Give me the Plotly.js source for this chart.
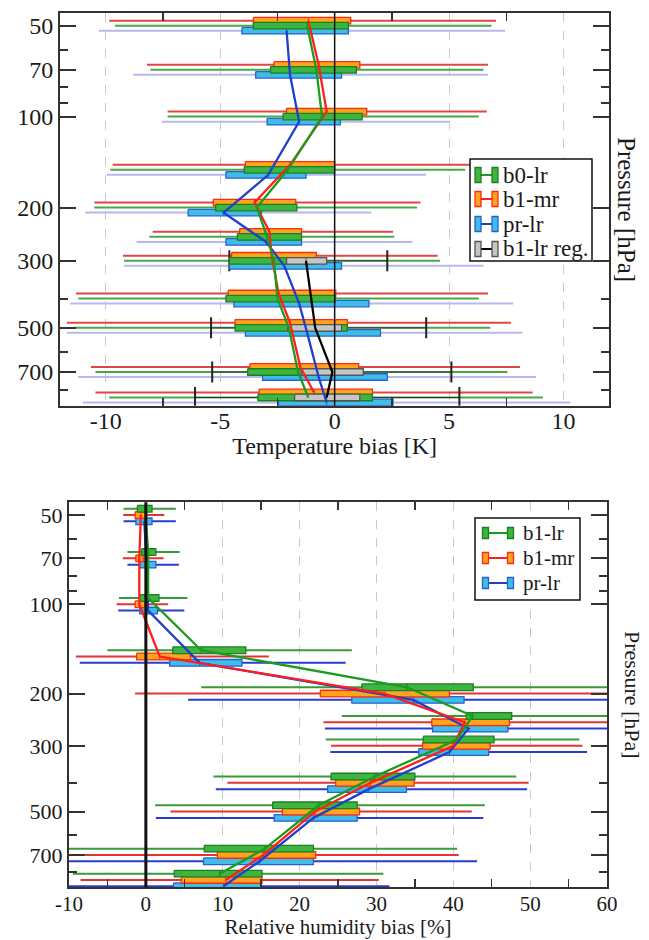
<!DOCTYPE html>
<html>
<head>
<meta charset="utf-8">
<script src="https://cdn.plot.ly/plotly-3.0.1.min.js"></script>
<style>html,body{margin:0;padding:0;background:#fff;}#chart{width:649px;height:940px;}</style>
</head>
<body>
<div id="chart"></div>
<script>
// ---------------- DATA ----------------
const LEVELS = [50, 70, 100, 150, 200, 250, 300, 400, 500, 700, 850];
const P_TICKS = [50, 70, 100, 200, 300, 500, 700];
const P_MINOR = [60, 80, 90, 400, 600, 800];
const T_TICKS = [-10, -5, 0, 5, 10];
const T_MINOR = [-7.5, -2.5, 2.5, 7.5];
const RH_TICKS = [-10, 0, 10, 20, 30, 40, 50, 60];
const RH_MINOR = [-5, 5, 15, 25, 35, 45, 55];

// Temperature bias [K]
const T_B0LR_MIN = [-9.6, -8.05, -7.3, -9.8, -10.5, -8.1, -9.2, -11.2, -11.4, -10.45, -9.85];
const T_B0LR_Q1  = [-3.55, -2.8, -2.25, -3.95, -5.2, -4.25, -4.6, -4.75, -4.35, -3.8, -3.35];
const T_B0LR_MED = [-1.2, -0.8, -0.55, -2.05, -3.4, -2.95, -2.65, -2.5, -2.0, -1.6, -1.15];
const T_B0LR_Q3  = [0.6, 0.95, 1.2, 0.0, -1.65, -1.45, -0.9, 0.03, 0.55, 0.9, 1.65];
const T_B0LR_MAX = [6.85, 6.5, 6.3, 5.7, 3.6, 2.6, 4.6, 6.3, 6.8, 7.55, 9.1];

const T_B1MR_MIN = [-9.85, -8.2, -7.3, -9.7, -10.5, -7.95, -9.25, -11.3, -11.7, -10.65, -10.45];
const T_B1MR_Q1  = [-3.55, -2.65, -2.1, -3.9, -5.3, -4.15, -4.5, -4.65, -4.35, -3.7, -3.3];
const T_B1MR_MED = [-1.15, -0.7, -0.35, -1.95, -3.5, -2.85, -2.75, -2.45, -1.95, -1.5, -0.9];
const T_B1MR_Q3  = [0.7, 1.1, 1.4, 0.0, -1.7, -1.45, -0.8, 0.05, 0.55, 1.05, 1.65];
const T_B1MR_MAX = [7.05, 6.7, 6.65, 5.95, 3.75, 2.55, 4.5, 6.7, 7.7, 8.1, 8.65];

const T_PRLR_MIN = [-10.3, -8.8, -7.55, -9.95, -10.9, -8.65, -9.2, -11.55, -11.7, -11.2, -11.0];
const T_PRLR_Q1  = [-4.05, -3.45, -2.95, -4.75, -6.4, -4.75, -4.6, -4.4, -3.9, -3.15, -2.45];
const T_PRLR_MED = [-2.1, -1.95, -1.55, -2.9, -4.85, -3.0, -2.2, -1.55, -1.2, -0.7, -0.35];
const T_PRLR_Q3  = [0.6, 0.3, 0.25, -1.25, -3.2, -1.45, 0.3, 1.5, 2.0, 2.3, 2.55];
const T_PRLR_MAX = [7.45, 6.7, 5.0, 4.0, 1.6, 3.4, 6.5, 7.8, 8.2, 8.8, 10.3];

const T_REG_LEVELS = [300, 500, 700, 850];
const T_REG_MIN = [-4.6, -5.4, -5.35, -6.1];
const T_REG_Q1  = [-2.1, -2.05, -1.45, -1.75];
const T_REG_MED = [-1.25, -0.85, -0.1, -0.35];
const T_REG_Q3  = [-0.35, 0.3, 1.25, 1.1];
const T_REG_MAX = [2.3, 4.0, 5.1, 5.45];

// Relative humidity bias [%]
const RH_B1LR_MIN = [-2.9, -2.4, -3.5, -5.0, 7.2, 25.5, 23.4, 8.8, 1.2, -12, -9.5];
const RH_B1LR_Q1  = [-1.1, -0.55, -0.8, 3.5, 28.1, 41.7, 36.1, 24.1, 16.5, 7.6, 3.7];
const RH_B1LR_MED = [-0.1, 0.3, 0.3, 7.2, 34.0, 42.5, 40.5, 29.8, 22.5, 15.5, 9.6];
const RH_B1LR_Q3  = [0.8, 1.3, 1.7, 13.0, 42.6, 47.6, 45.3, 35.0, 27.5, 21.8, 15.1];
const RH_B1LR_MAX = [3.9, 4.4, 5.4, 26.8, 63, 63, 56.4, 48.2, 44.1, 40.5, 30.9];

const RH_B1MR_MIN = [-2.95, -3.0, -3.8, -9.1, -1.4, 23.1, 24.1, 10.6, 3.2, -7.9, -8.5];
const RH_B1MR_Q1  = [-1.4, -1.3, -1.4, -1.2, 22.7, 37.2, 36.0, 24.7, 17.75, 9.3, 4.6];
const RH_B1MR_MED = [-0.65, -0.85, -0.85, 1.8, 31.0, 41.5, 40.0, 29.2, 22.0, 15.3, 10.4];
const RH_B1MR_Q3  = [0.1, -0.35, -0.1, 5.8, 39.5, 47.3, 44.8, 34.9, 27.8, 22.1, 15.1];
const RH_B1MR_MAX = [2.4, 2.3, 2.9, 16.0, 63, 63, 56.8, 49.8, 42.4, 40.7, 30.3];

const RH_PRLR_MIN = [-2.9, -2.4, -3.6, -8.6, 5.5, 23.3, 24.0, 9.1, 1.3, -12, -12];
const RH_PRLR_Q1  = [-1.3, -0.8, -0.8, 3.1, 26.8, 37.3, 35.5, 23.65, 16.7, 7.5, 3.6];
const RH_PRLR_MED = [-0.2, 0.1, 0.3, 7.0, 34.8, 42.0, 39.5, 29.0, 21.8, 14.8, 10.1];
const RH_PRLR_Q3  = [0.8, 1.3, 1.5, 12.5, 41.4, 47.1, 44.6, 33.9, 27.5, 21.8, 15.0];
const RH_PRLR_MAX = [3.9, 4.3, 5.0, 26.0, 63, 63, 57.4, 49.6, 43.9, 43.1, 31.7];

const TOP_NAMES = ['b0-lr', 'b1-mr', 'pr-lr', 'b1-lr reg.'];
const BOT_NAMES = ['b1-lr', 'b1-mr', 'pr-lr'];

// ---------------- STYLE ----------------
const FONT = '"Liberation Serif", "Times New Roman", serif';
const TXT = '#1a1a1a';
const GREEN = {fill: '#3db540', border: '#1e7e22', line: '#1c9c1c', wTop: '#48a848', wBot: '#3a9a3a'};
const RED   = {fill: '#ffa41c', border: '#ff2a12', line: '#ff1e1e', wTop: '#e04646', wBot: '#e83232'};
const BLUE  = {fill: '#3fbde6', border: '#2a60d0', line: '#2040cc', wTop: '#b6b9ee', wBot: '#2a3cd0'};
const GRAY  = {fill: '#c6c6c6', border: '#555555', line: '#000000', wTop: '#333333', wBot: '#333333'};

const TOP_STEP = 0.0166, TOP_HALF = 0.0108;   // vertical offset between series / box half height (decades)
const BOT_STEP = 0.0212, BOT_HALF = 0.0112;

function shiftP(p, k, step) { return p * Math.pow(10, k * step); }

const topSeries = [
  {lv: LEVELS, k: 1,  c: BLUE,  min: T_PRLR_MIN, q1: T_PRLR_Q1, med: T_PRLR_MED, q3: T_PRLR_Q3, max: T_PRLR_MAX},
  {lv: LEVELS, k: -1, c: RED,   min: T_B1MR_MIN, q1: T_B1MR_Q1, med: T_B1MR_MED, q3: T_B1MR_Q3, max: T_B1MR_MAX},
  {lv: LEVELS, k: 0,  c: GREEN, min: T_B0LR_MIN, q1: T_B0LR_Q1, med: T_B0LR_MED, q3: T_B0LR_Q3, max: T_B0LR_MAX},
  {lv: T_REG_LEVELS, k: 0, c: GRAY, min: T_REG_MIN, q1: T_REG_Q1, med: T_REG_MED, q3: T_REG_Q3, max: T_REG_MAX, caps: true}
];
const botSeries = [
  {lv: LEVELS, k: 1,  c: BLUE,  min: RH_PRLR_MIN, q1: RH_PRLR_Q1, med: RH_PRLR_MED, q3: RH_PRLR_Q3, max: RH_PRLR_MAX},
  {lv: LEVELS, k: 0,  c: RED,   min: RH_B1MR_MIN, q1: RH_B1MR_Q1, med: RH_B1MR_MED, q3: RH_B1MR_Q3, max: RH_B1MR_MAX},
  {lv: LEVELS, k: -1, c: GREEN, min: RH_B1LR_MIN, q1: RH_B1LR_Q1, med: RH_B1LR_MED, q3: RH_B1LR_Q3, max: RH_B1LR_MAX}
];

const traces = [];
function addPanel(series, xa, ya, step, half, wKey) {
  // whiskers
  series.forEach(s => {
    const x = [], y = [];
    s.lv.forEach((p, i) => { const pp = shiftP(p, s.k, step); x.push(s.min[i], s.max[i], null); y.push(pp, pp, null); });
    traces.push({type: 'scatter', mode: 'lines', x, y, xaxis: xa, yaxis: ya, showlegend: false, hoverinfo: 'skip',
      line: {color: s.c[wKey], width: s.caps ? 1 : 2}});
    if (s.caps) {
      const cx = [], cy = [];
      s.lv.forEach((p, i) => { const pp = shiftP(p, s.k, step); cx.push(s.min[i], s.max[i]); cy.push(pp, pp); });
      traces.push({type: 'scatter', mode: 'markers', x: cx, y: cy, xaxis: xa, yaxis: ya, showlegend: false, hoverinfo: 'skip',
        marker: {symbol: 'line-ns-open', size: 15, color: '#222', line: {color: '#222', width: 2}}});
    }
  });
  // boxes with median dividers
  series.forEach(s => {
    const x = [], y = [], mx = [], my = [];
    s.lv.forEach((p, i) => {
      const pp = shiftP(p, s.k, step);
      const lo = pp * Math.pow(10, -half), hi = pp * Math.pow(10, half);
      x.push(s.q1[i], s.q3[i], s.q3[i], s.q1[i], s.q1[i], null);
      y.push(lo, lo, hi, hi, lo, null);
      mx.push(s.med[i], s.med[i], null); my.push(lo, hi, null);
    });
    traces.push({type: 'scatter', mode: 'lines', x, y, xaxis: xa, yaxis: ya, fill: 'toself', fillcolor: s.c.fill,
      line: {color: s.c.border, width: 1.3}, showlegend: false, hoverinfo: 'skip'});
    traces.push({type: 'scatter', mode: 'lines', x: mx, y: my, xaxis: xa, yaxis: ya,
      line: {color: s.c.border, width: 1}, showlegend: false, hoverinfo: 'skip'});
  });
  // median profile lines
  series.forEach(s => {
    const y = s.lv.map(p => shiftP(p, s.k, step));
    traces.push({type: 'scatter', mode: 'lines', x: s.med, y, xaxis: xa, yaxis: ya, showlegend: false,
      line: {color: s.c.line, width: 2.3}});
  });
}
addPanel(topSeries, 'x', 'y', TOP_STEP, TOP_HALF, 'wTop');
addPanel(botSeries, 'x2', 'y2', BOT_STEP, BOT_HALF, 'wBot');

// ---------------- LAYOUT ----------------
const W = 649, H = 940;
const px = v => v / W, py = v => 1 - v / H;

function xAxis(domain, range, tickvals, minorvals, fs, title, standoff, lblOff) {
  return {
    domain, range, tickmode: 'array', tickvals, ticktext: tickvals.map(String), ticks: '',
    ticklabelstandoff: lblOff,
    showgrid: true, gridcolor: '#c9c9c9', griddash: 'dash', gridwidth: 1, zeroline: false,
    showline: true, linecolor: '#333', linewidth: 2, mirror: 'allticks',
    minor: {tickmode: 'array', tickvals: minorvals, ticks: 'inside', ticklen: 8, tickwidth: 1.5, tickcolor: '#333', showgrid: false},
    tickfont: {family: FONT, size: fs, color: TXT},
    title: {text: title, font: {family: FONT, size: fs, color: TXT}, standoff},
    fixedrange: true
  };
}
function yAxis(domain, range, fs) {
  return {
    domain, type: 'log', range, tickmode: 'array', tickvals: P_TICKS, ticktext: P_TICKS.map(String),
    ticks: 'inside', ticklen: 16, tickwidth: 2, tickcolor: '#333',
    minor: {tickmode: 'array', tickvals: P_MINOR, ticks: 'inside', ticklen: 8, tickwidth: 2, tickcolor: '#333', showgrid: false},
    showgrid: false, zeroline: false, showline: true, linecolor: '#333', linewidth: 2, mirror: 'allticks',
    tickfont: {family: FONT, size: fs, color: TXT}, fixedrange: true
  };
}

const shapes = [
  {type: 'line', xref: 'x', yref: 'y domain', x0: 0, x1: 0, y0: 0, y1: 1, line: {color: '#111', width: 1.5}, layer: 'above'},
  {type: 'line', xref: 'x2', yref: 'y2 domain', x0: 0, x1: 0, y0: 0, y1: 1, line: {color: '#111', width: 3}, layer: 'above'}
];
const annotations = [
  {xref: 'paper', yref: 'paper', x: px(627), y: py(209), text: 'Pressure [hPa]', textangle: 90, showarrow: false,
   font: {family: FONT, size: 25, color: TXT}, xanchor: 'center', yanchor: 'middle'},
  {xref: 'paper', yref: 'paper', x: px(633), y: py(695), text: 'Pressure [hPa]', textangle: 90, showarrow: false,
   font: {family: FONT, size: 22, color: TXT}, xanchor: 'center', yanchor: 'middle'}
];

// manual legends (H-shaped keys)
function legend(box, entries, key, textX, fs) {
  shapes.push({type: 'rect', xref: 'paper', yref: 'paper', x0: px(box[0]), x1: px(box[1]), y0: py(box[3]), y1: py(box[2]),
    line: {color: '#111', width: 1.5}, fillcolor: '#fff', layer: 'above'});
  entries.forEach(e => {
    const cy = e.cy, c = e.c;
    shapes.push({type: 'line', xref: 'paper', yref: 'paper', x0: px(key[0]), x1: px(key[3]), y0: py(cy), y1: py(cy),
      line: {color: c.line, width: 2}, layer: 'above'});
    [[key[0], key[1]], [key[2], key[3]]].forEach(b => {
      shapes.push({type: 'rect', xref: 'paper', yref: 'paper', x0: px(b[0]), x1: px(b[1]), y0: py(cy + key[4] / 2), y1: py(cy - key[4] / 2),
        line: {color: c.border, width: 1.3}, fillcolor: c.fill, layer: 'above'});
    });
    annotations.push({xref: 'paper', yref: 'paper', x: px(textX), y: py(cy), text: e.name, showarrow: false,
      xanchor: 'left', yanchor: 'middle', font: {family: FONT, size: fs, color: TXT}});
  });
}
legend([470, 592, 159, 261], [
  {name: TOP_NAMES[0], c: GREEN, cy: 175}, {name: TOP_NAMES[1], c: RED, cy: 199},
  {name: TOP_NAMES[2], c: BLUE, cy: 224}, {name: TOP_NAMES[3], c: GRAY, cy: 249}
], [475, 481, 492, 498, 15], 501, 23);
legend([475, 580, 518, 600], [
  {name: BOT_NAMES[0], c: GREEN, cy: 533}, {name: BOT_NAMES[1], c: RED, cy: 558}, {name: BOT_NAMES[2], c: BLUE, cy: 583}
], [482.5, 488.5, 507.5, 513.5, 11], 521, 21);

const layout = {
  width: W, height: H, margin: {l: 0, r: 0, t: 0, b: 0},
  paper_bgcolor: '#fff', plot_bgcolor: '#fff', showlegend: false,
  xaxis: xAxis([px(60), px(609.3)], [-12, 12], T_TICKS, T_MINOR, 24, 'Temperature bias [K]', 4, -8),
  yaxis: yAxis([py(405.7), py(12.7)], [Math.log10(905), Math.log10(45.3)], 24),
  xaxis2: xAxis([px(69), px(607)], [-10, 60], RH_TICKS, RH_MINOR, 21, 'Relative humidity bias [%]', 4, -4),
  yaxis2: yAxis([py(887.3), py(502.3)], [Math.log10(900), Math.log10(45.3)], 22),
  shapes, annotations
};
layout.xaxis.anchor = 'y'; layout.yaxis.anchor = 'x';
layout.xaxis2.anchor = 'y2'; layout.yaxis2.anchor = 'x2';

Plotly.newPlot('chart', traces, layout, {staticPlot: true});
</script>
</body>
</html>
